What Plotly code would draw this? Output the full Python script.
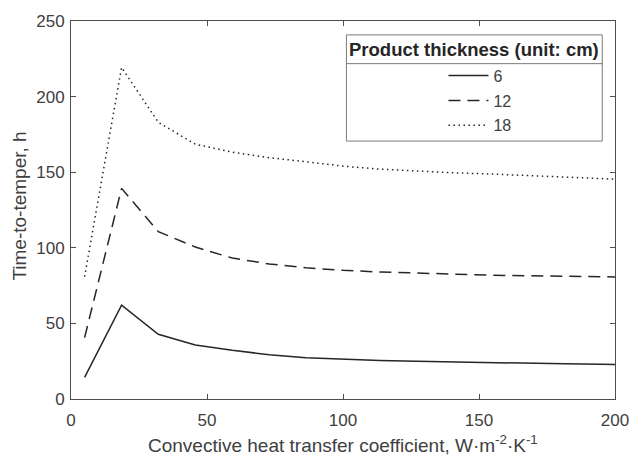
import plotly.graph_objects as go

h = [5, 18.6, 32.1, 45.7, 59.3, 72.9, 86.4, 100, 113.6, 127.1, 140.7, 154.3, 167.9, 181.4, 195, 200]
t6 = [14.3, 62.0, 42.8, 35.7, 32.2, 29.3, 27.2, 26.1, 25.4, 24.9, 24.4, 24.0, 23.6, 23.3, 23.0, 22.8]
t12 = [40.6, 139.3, 110.7, 100.5, 93.2, 89.3, 86.8, 85.1, 84.0, 83.2, 82.5, 81.9, 81.5, 81.1, 80.8, 80.7]
t18 = [80.9, 219.3, 183.0, 168.5, 163.3, 159.6, 156.9, 154.0, 152.0, 150.7, 149.6, 148.8, 147.8, 146.8, 145.8, 145.4]
names = ["6", "12", "18"]
xticks = [0, 50, 100, 150, 200]
yticks = [0, 50, 100, 150, 200, 250]

W, H = 641, 458
L, R, T, B = 71, 15, 18, 59
pw, ph = W - L - R, H - T - B

def px(xp):
    return (xp - L) / pw

def py(yp):
    return (H - B - yp) / ph

FONT = "Liberation Sans, Arial, sans-serif"
TXT = "#404040"
AX = "#4d4d4d"
LC = "#262626"

fig = go.Figure()
dashes = ["solid", "12px,7px", "1.5px,3.5px"]
for i, (name, ys) in enumerate(zip(names, [t6, t12, t18])):
    fig.add_trace(go.Scatter(
        x=h, y=ys, mode="lines", name=name, legendgroup=name,
        line=dict(color=LC, width=1.5, dash=dashes[i]),
    ))

axis_common = dict(
    showgrid=False, zeroline=False, showline=True, linecolor=AX, linewidth=1,
    mirror="ticks", ticks="inside", ticklen=5, tickcolor=AX, tickwidth=1,
    tickfont=dict(family=FONT, size=17, color=TXT), ticklabeloverflow="allow",
)

fig.update_layout(
    width=W, height=H,
    margin=dict(l=L, r=R, t=T, b=B, pad=0),
    paper_bgcolor="white", plot_bgcolor="white",
    xaxis=dict(range=[0, 200], tickvals=xticks, ticklabelstandoff=6, **axis_common),
    yaxis=dict(range=[0, 250], tickvals=yticks, ticklabelstandoff=2, **axis_common),
    showlegend=True,
    legend=dict(
        x=px(451), y=py(56), xanchor="left", yanchor="top",
        bgcolor="rgba(0,0,0,0)", borderwidth=0,
        font=dict(family=FONT, size=16, color=TXT),
        tracegroupgap=1, itemwidth=40,
    ),
    shapes=[
        dict(type="rect", xref="paper", yref="paper",
             x0=px(352), x1=px(613), y0=py(139), y1=py(32),
             line=dict(color="#7a7a7a", width=1), fillcolor="white", layer="above"),
        dict(type="line", xref="paper", yref="paper",
             x0=px(352), x1=px(613), y0=py(61), y1=py(61),
             line=dict(color="#7a7a7a", width=1), layer="above"),
    ],
    annotations=[
        dict(text="<b>Product thickness (unit: cm)</b>", xref="paper", yref="paper",
             x=px(482.5), y=py(46.5), xanchor="center", yanchor="middle",
             showarrow=False, font=dict(family=FONT, size=18.5, color="#262626")),
        dict(text="Convective heat transfer coefficient, W·m<sup>-2</sup>·K<sup>-1</sup>",
             xref="paper", yref="paper", x=px(349), y=py(444),
             xanchor="center", yanchor="middle", showarrow=False,
             font=dict(family=FONT, size=19, color=TXT)),
        dict(text="Time-to-temper, h", xref="paper", yref="paper",
             x=px(18), y=py(205), xanchor="center", yanchor="middle",
             textangle=-90, showarrow=False,
             font=dict(family=FONT, size=19, color=TXT)),
    ],
)

fig.write_html("out.html")
